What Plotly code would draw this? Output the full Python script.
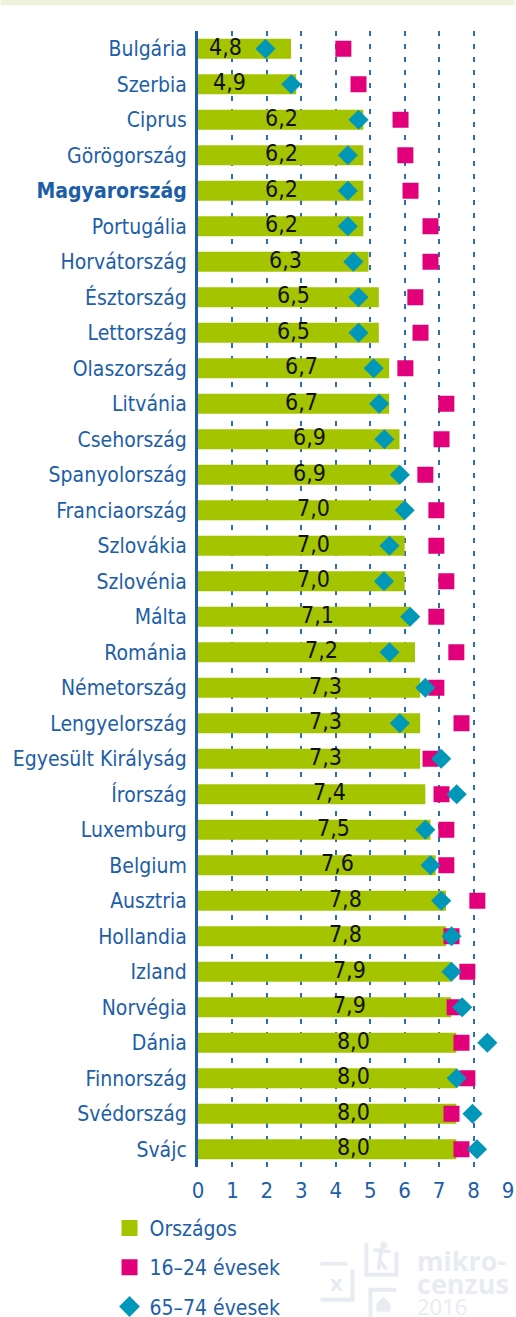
import plotly.graph_objects as go

countries = ["Bulgária", "Szerbia", "Ciprus", "Görögország", "Magyarország", "Portugália",
             "Horvátország", "Észtország", "Lettország", "Olaszország", "Litvánia", "Csehország",
             "Spanyolország", "Franciaország", "Szlovákia", "Szlovénia", "Málta", "Románia",
             "Németország", "Lengyelország", "Egyesült Királyság", "Írország", "Luxemburg",
             "Belgium", "Ausztria", "Hollandia", "Izland", "Norvégia", "Dánia", "Finnország",
             "Svédország", "Svájc"]

orszagos = [4.8, 4.9, 6.2, 6.2, 6.2, 6.2, 6.3, 6.5, 6.5, 6.7, 6.7, 6.9, 6.9, 7.0, 7.0, 7.0,
            7.1, 7.2, 7.3, 7.3, 7.3, 7.4, 7.5, 7.6, 7.8, 7.8, 7.9, 7.9, 8.0, 8.0, 8.0, 8.0]

evesek_16_24 = [4.22, 4.66, 5.88, 6.02, 6.17, 6.75, 6.75, 6.31, 6.46, 6.02, 7.21, 7.07,
                6.60, 6.92, 6.92, 7.21, 6.92, 7.50, 6.92, 7.65, 6.75, 7.07, 7.21, 7.21,
                8.11, 7.36, 7.82, 7.45, 7.65, 7.82, 7.36, 7.65]

evesek_65_74 = [1.96, 2.71, 4.66, 4.35, 4.35, 4.35, 4.51, 4.66, 4.66, 5.10, 5.26, 5.41,
                5.86, 6.00, 5.56, 5.40, 6.16, 5.56, 6.60, 5.86, 7.06, 7.51, 6.60, 6.75,
                7.06, 7.36, 7.36, 7.67, 8.40, 7.51, 7.97, 8.10]

x_ticks = [0, 1, 2, 3, 4, 5, 6, 7, 8, 9]

FONT = "DejaVu Sans Condensed, Liberation Sans Narrow, sans-serif"
BLUE = "#1d5ea8"
GRID = "#2f6db3"
GREEN = "#a4c400"
PINK = "#e2007a"
TEAL = "#0097b8"
WM = "#e8ecf2"

W, H = 516, 1317
ML, MR, MT, MB = 197.5, 8.4, 31.25, 149.75
PW = W - ML - MR
PH = H - MT - MB


def px_x(x):
    return (x - ML) / PW


def px_y(y):
    return (H - MB - y) / PH


# value labels sit inside the bars, drifting right with the value
label_x = [0.80 + 1.16 * (v - 4.8) for v in orszagos]
label_txt = [f"{v:.1f}".replace(".", ",") for v in orszagos]

ticktext = [f"<b>{c}</b>" if c == "Magyarország" else c for c in countries]

fig = go.Figure()

# bars on the primary x axis (scale 3..9, hidden)
fig.add_trace(go.Bar(
    y=countries, x=orszagos, orientation="h", xaxis="x", yaxis="y",
    marker=dict(color=GREEN, line=dict(width=0)), width=0.56,
    name="Országos", showlegend=False,
))

# labels and markers on the visible 0..9 axis, drawn on top
fig.add_trace(go.Scatter(
    y=countries, x=label_x, mode="text", text=label_txt, xaxis="x2", yaxis="y",
    textfont=dict(family=FONT, size=23, color="#111111"),
    textposition="middle center", showlegend=False, hoverinfo="skip",
))
fig.add_trace(go.Scatter(
    y=countries, x=evesek_16_24, mode="markers", name="16–24 évesek", xaxis="x2", yaxis="y",
    marker=dict(symbol="square", size=16, color=PINK, line=dict(width=0)),
    showlegend=False,
))
fig.add_trace(go.Scatter(
    y=countries, x=evesek_65_74, mode="markers", name="65–74 évesek", xaxis="x2", yaxis="y",
    marker=dict(symbol="diamond", size=15.5, color=TEAL, line=dict(width=0)),
    showlegend=False,
))

# legend entries
for nm, sym, col in [("Országos", "square", GREEN), ("16–24 évesek", "square", PINK),
                     ("65–74 évesek", "diamond", TEAL)]:
    fig.add_trace(go.Scatter(x=[None], y=[None], mode="markers", name=nm, legendgroup=nm,
                             xaxis="x2", yaxis="y",
                             marker=dict(symbol=sym, size=18, color=col)))

# top band
fig.add_shape(type="rect", xref="paper", yref="paper",
              x0=px_x(0), x1=px_x(514), y0=px_y(5.5), y1=px_y(-2),
              fillcolor="#eef2da", line=dict(width=0), layer="below")

# faint watermark (mikrocenzus 2016 logo)
for txt, yc, sz, bold in [("mikro-", 1261, 27, True), ("cenzus", 1284, 27, True),
                          ("2016", 1306, 22, False)]:
    fig.add_annotation(xref="paper", yref="paper", x=px_x(415), y=px_y(yc),
                       xanchor="left", yanchor="middle", align="left", showarrow=False,
                       text=f"<b>{txt}</b>" if bold else txt,
                       font=dict(family="Open Sans, sans-serif", size=sz, color=WM))
fig.add_annotation(xref="paper", yref="paper", x=px_x(336), y=px_y(1282),
                   xanchor="center", yanchor="middle", showarrow=False,
                   text="<b>x</b>",
                   font=dict(family="Open Sans, sans-serif", size=22, color=WM))
paths = [
    [(320, 1264), (347, 1264)],
    [(320, 1300), (352, 1300), (352, 1270)],
    [(366, 1243), (366, 1275), (396, 1275), (396, 1252)],
    [(370, 1317), (370, 1290), (396, 1290)],
]
for pts in paths:
    d = "M " + " L ".join(f"{px_x(a)},{px_y(b)}" for a, b in pts)
    fig.add_shape(type="path", xref="paper", yref="paper", path=d,
                  line=dict(color=WM, width=4))
fig.add_shape(type="path", xref="paper", yref="paper",
              path=(f"M {px_x(376)},{px_y(1304)} L {px_x(383)},{px_y(1297)} "
                    f"L {px_x(390)},{px_y(1304)} L {px_x(390)},{px_y(1312)} "
                    f"L {px_x(376)},{px_y(1312)} Z"),
              fillcolor=WM, line=dict(width=0))
fig.add_shape(type="path", xref="paper", yref="paper",
              path=(f"M {px_x(373)},{px_y(1250)} L {px_x(390)},{px_y(1252)} "
                    f"M {px_x(381)},{px_y(1248)} L {px_x(378)},{px_y(1270)} "
                    f"M {px_x(379)},{px_y(1260)} L {px_x(386)},{px_y(1270)}"),
              line=dict(color=WM, width=3.5))
fig.add_shape(type="circle", xref="paper", yref="paper",
              x0=px_x(380), x1=px_x(387), y0=px_y(1249), y1=px_y(1242),
              fillcolor=WM, line=dict(width=0))

fig.update_layout(
    width=W, height=H,
    margin=dict(l=ML, r=MR, t=MT, b=MB, pad=0, autoexpand=False),
    paper_bgcolor="white", plot_bgcolor="white",
    font=dict(family=FONT, size=21, color=BLUE),
    xaxis=dict(range=[3, 9], visible=False, showgrid=False, zeroline=False, fixedrange=True),
    xaxis2=dict(range=[0, 9], overlaying="x", side="bottom", anchor="y",
                tickvals=x_ticks, ticktext=[str(t) for t in x_ticks],
                showgrid=True, gridcolor=GRID, gridwidth=1.5, griddash="5px,8px",
                zeroline=False, showline=False, ticks="", ticklabelstandoff=8,
                automargin=False,
                tickfont=dict(family=FONT, size=22, color=BLUE), fixedrange=True),
    yaxis=dict(categoryorder="array", categoryarray=countries, range=[31.5, -0.5],
               tickvals=countries, ticktext=ticktext, showgrid=False, zeroline=False,
               showline=True, linecolor=BLUE, linewidth=3, ticks="",
               ticklabelstandoff=4, automargin=False,
               tickfont=dict(family=FONT, size=21, color=BLUE), fixedrange=True),
    legend=dict(x=px_x(109), y=px_y(1208), xanchor="left", yanchor="top",
                font=dict(family=FONT, size=21, color=BLUE), bgcolor="rgba(0,0,0,0)",
                tracegroupgap=9, itemsizing="trace"),
    showlegend=True,
)

fig.write_html("out.html",
               config={"displayModeBar": False},
               post_script="document.body.style.margin='0';document.body.style.overflow='hidden';")
